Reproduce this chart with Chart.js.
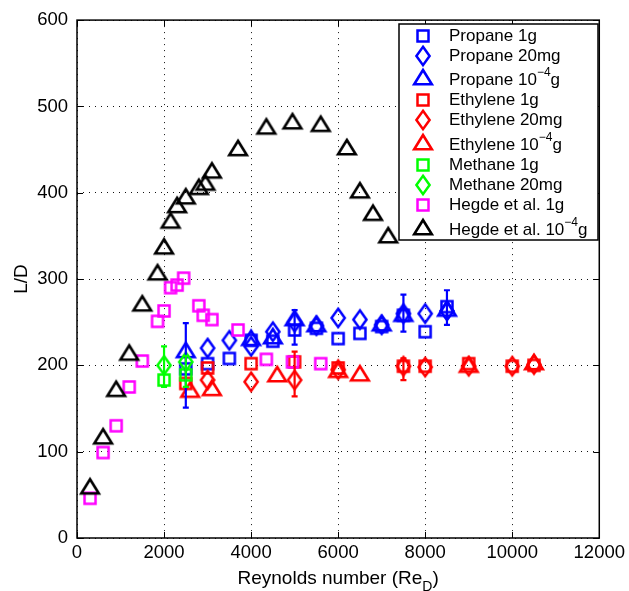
<!DOCTYPE html>
<html lang="en">
<head>
<meta charset="UTF-8">
<title>L/D vs Reynolds number</title>
<script src="https://cdn.jsdelivr.net/npm/chart.js"></script>
<style>
  html, body { margin: 0; padding: 0; background: #fff; }
  #wrap { width: 629px; height: 591px; }
</style>
</head>
<body>
<div id="wrap"><canvas id="chart" width="629" height="591"></canvas></div>
<script>
// ---- data ----
const xTickValues = [0, 2000, 4000, 6000, 8000, 10000, 12000];
const yTickValues = [0, 100, 200, 300, 400, 500, 600];

const propane1gX = [2500, 3000, 3500, 4000, 4500, 5000, 5500, 6000, 6500, 7000, 7500, 8000, 8500];
const propane1gY = [196, 202, 208, 229, 228, 241, 243, 231, 237, 245, 258, 239, 268];

const propane20mgX = [3000, 3500, 4000, 4500, 5000, 5500, 6000, 6500, 7000, 7500, 8000, 8500];
const propane20mgY = [220, 229, 222, 239, 250, 246, 255, 253, 247, 260, 260, 263];

const propane4X = [2500, 4000, 4500, 5000, 5500, 7000, 7500, 8500];
const propane4Y = [218, 232, 234, 255, 248, 249, 260, 266];
const propane4Lo = [151, null, null, 224, null, null, 239, 247];
const propane4Hi = [249, null, null, 264, null, null, 282, 287];

const ethylene1gX = [2500, 3000, 4000, 5000, 6000, 7500, 8000, 9000, 10000, 10500];
const ethylene1gY = [179, 197, 202, 204, 197, 199, 199, 202, 199, 200];

const ethylene20mgX = [3000, 4000, 5000, 6000, 7500, 8000, 9000, 10000, 10500];
const ethylene20mgY = [183, 181, 183, 195, 199, 198, 199, 199, 201];
const ethylene20mgLo = [null, null, 164, null, 183, null, null, null, null];
const ethylene20mgHi = [null, null, 216, null, 208, null, null, null, null];

const ethylene4X = [2600, 3100, 4600, 6000, 6500, 9000, 10500];
const ethylene4Y = [172, 174, 190, 195, 191, 201, 204];

const methane1gX = [2000, 2500];
const methane1gY = [183, 189];

const methane20mgX = [2000, 2500];
const methane20mgY = [200, 204];
const methane20mgLo = [175, 175];
const methane20mgHi = [222, 211];

const hegde1gX = [300, 600, 900, 1200, 1500, 1850, 2000, 2150, 2300, 2450, 2800, 2900, 3100, 3700, 4350, 4950, 5600];
const hegde1gY = [46, 99, 130, 175, 205, 251, 263, 290, 293, 301, 269, 258, 253, 241, 207, 204, 202];

const hegde4X = [300, 600, 900, 1200, 1500, 1850, 2000, 2150, 2300, 2500, 2800, 2950, 3100, 3700, 4350, 4950, 5600, 6200, 6500, 6800, 7150];
const hegde4Y = [60, 118, 173, 215, 272, 308, 338, 368, 386, 396, 407, 412, 426, 452, 477, 483, 480, 453, 403, 377, 351];

// ---- marker images (MATLAB-like hollow markers) ----
function marker(shape, color) {
  const c = document.createElement('canvas');
  const g = c.getContext('2d');
  g.strokeStyle = color;
  g.lineJoin = 'miter';
  if (shape === 'square') {
    c.width = 16; c.height = 16;
    g.strokeStyle = color; g.lineWidth = 2.5;
    g.strokeRect(2.5, 2.5, 11, 11);
  } else if (shape === 'diamond') {
    c.width = 20; c.height = 26;
    g.strokeStyle = color; g.lineWidth = 2.5; g.lineJoin = 'miter';
    g.beginPath();
    g.moveTo(10, 3.8); g.lineTo(16.6, 13); g.lineTo(10, 22.2); g.lineTo(3.4, 13); g.closePath();
    g.stroke();
  } else {
    c.width = 26; c.height = 24;
    g.strokeStyle = color; g.lineWidth = 2.6; g.lineJoin = 'miter';
    g.beginPath();
    g.moveTo(13, 5); g.lineTo(21.8, 19.2); g.lineTo(4.2, 19.2); g.closePath();
    g.stroke();
  }
  return c;
}

function pts(xs, ys) { return xs.map((x, i) => ({ x: x, y: ys[i] })); }

const series = [
  { label: 'Propane 1g', color: '#0000ff', shape: 'square', data: pts(propane1gX, propane1gY) },
  { label: 'Propane 20mg', color: '#0000ff', shape: 'diamond', data: pts(propane20mgX, propane20mgY) },
  { label: 'Propane 10^-4g', color: '#0000ff', shape: 'triangle', data: pts(propane4X, propane4Y), lo: propane4Lo, hi: propane4Hi },
  { label: 'Ethylene 1g', color: '#ff0000', shape: 'square', data: pts(ethylene1gX, ethylene1gY) },
  { label: 'Ethylene 20mg', color: '#ff0000', shape: 'diamond', data: pts(ethylene20mgX, ethylene20mgY), lo: ethylene20mgLo, hi: ethylene20mgHi },
  { label: 'Ethylene 10^-4g', color: '#ff0000', shape: 'triangle', data: pts(ethylene4X, ethylene4Y) },
  { label: 'Methane 1g', color: '#00ff00', shape: 'square', data: pts(methane1gX, methane1gY) },
  { label: 'Methane 20mg', color: '#00ff00', shape: 'diamond', data: pts(methane20mgX, methane20mgY), lo: methane20mgLo, hi: methane20mgHi },
  { label: 'Hegde et al. 1g', color: '#ff00ff', shape: 'square', data: pts(hegde1gX, hegde1gY) },
  { label: 'Hegde et al. 10^-4g', color: '#000000', shape: 'triangle', data: pts(hegde4X, hegde4Y) }
];

const datasets = series.map((s, i) => ({
  label: s.label,
  data: s.data,
  showLine: false,
  pointStyle: marker(s.shape, s.color),
  pointRadius: 10,
  borderColor: s.color,
  backgroundColor: s.color,
  order: series.length - i,
  errLo: s.lo,
  errHi: s.hi
}));

const FONT = '"Liberation Sans", Arial, Helvetica, sans-serif';

// frame with inward ticks on all four sides
const framePlugin = {
  id: 'frame',
  afterDatasetsDraw(chart) {
    const { ctx, chartArea: a, scales: { x, y } } = chart;
    ctx.save();
    ctx.strokeStyle = '#000';
    ctx.lineWidth = 1;
    ctx.beginPath();
    xTickValues.forEach(v => {
      const px = Math.round(x.getPixelForValue(v)) + 0.5;
      ctx.moveTo(px, a.bottom); ctx.lineTo(px, a.bottom - 6);
      ctx.moveTo(px, a.top); ctx.lineTo(px, a.top + 6);
    });
    yTickValues.forEach(v => {
      const py = Math.round(y.getPixelForValue(v)) + 0.5;
      ctx.moveTo(a.left, py); ctx.lineTo(a.left + 6, py);
      ctx.moveTo(a.right, py); ctx.lineTo(a.right - 6, py);
    });
    ctx.stroke();
    ctx.lineWidth = 1.5;
    ctx.strokeRect(a.left, a.top, a.right - a.left, a.bottom - a.top);
    ctx.restore();
  }
};

const errorBarPlugin = {
  id: 'errorBars',
  afterDatasetsDraw(chart) {
    const { ctx, scales: { x, y } } = chart;
    chart.data.datasets.forEach(ds => {
      if (!ds.errLo) return;
      ctx.save();
      ctx.strokeStyle = ds.borderColor;
      ctx.lineWidth = 2.2;
      ds.data.forEach((p, i) => {
        if (ds.errLo[i] == null) return;
        const px = x.getPixelForValue(p.x);
        const y1 = y.getPixelForValue(ds.errLo[i]);
        const y2 = y.getPixelForValue(ds.errHi[i]);
        ctx.beginPath();
        ctx.moveTo(px, y1); ctx.lineTo(px, y2);
        ctx.moveTo(px - 3, y1); ctx.lineTo(px + 3, y1);
        ctx.moveTo(px - 3, y2); ctx.lineTo(px + 3, y2);
        ctx.stroke();
      });
      ctx.restore();
    });
  }
};

// text with a ^-4 superscript
function drawSupText(ctx, text, x, y, size) {
  const m = text.match(/^(.*)\^(-\d)(.*)$/);
  ctx.font = size + 'px ' + FONT;
  if (!m) { ctx.fillText(text, x, y); return; }
  ctx.fillText(m[1], x, y);
  x += ctx.measureText(m[1]).width;
  ctx.font = Math.round(size * 0.72) + 'px ' + FONT;
  const sup = m[2].replace('-', '\u2212');
  ctx.fillText(sup, x, y - size * 0.42);
  x += ctx.measureText(sup).width;
  ctx.font = size + 'px ' + FONT;
  ctx.fillText(m[3], x, y);
}

const legendPlugin = {
  id: 'boxLegend',
  afterDraw(chart) {
    const { ctx } = chart;
    const rows = [36, 56, 77, 100, 120, 142, 165, 185, 205, 227];
    ctx.save();
    ctx.fillStyle = '#fff';
    ctx.fillRect(399, 24, 199, 216);
    ctx.strokeStyle = '#000';
    ctx.lineWidth = 1.5;
    ctx.strokeRect(399, 24, 199, 216);
    chart.data.datasets.forEach((ds, i) => {
      const img = ds.pointStyle;
      ctx.drawImage(img, Math.round(423 - img.width / 2), Math.round(rows[i] - img.height / 2));
      ctx.fillStyle = '#000';
      ctx.textBaseline = 'middle';
      ctx.textAlign = 'left';
      const sup = ds.label.indexOf('^') >= 0;
      drawSupText(ctx, ds.label, 449, rows[i] + (sup ? 3 : 0), 17);
    });
    ctx.restore();
  }
};

const titlePlugin = {
  id: 'axisTitles',
  afterDraw(chart) {
    const { ctx, chartArea: a } = chart;
    ctx.save();
    ctx.fillStyle = '#000';
    ctx.textBaseline = 'alphabetic';
    ctx.textAlign = 'left';
    const main = 'Reynolds number (Re';
    ctx.font = '19px ' + FONT;
    const w1 = ctx.measureText(main).width;
    ctx.font = '14px ' + FONT;
    const w2 = ctx.measureText('D').width;
    ctx.font = '19px ' + FONT;
    const w3 = ctx.measureText(')').width;
    let x0 = (a.left + a.right) / 2 - (w1 + w2 + w3) / 2;
    ctx.fillText(main, x0, 584);
    ctx.font = '14px ' + FONT;
    ctx.fillText('D', x0 + w1, 591);
    ctx.font = '19px ' + FONT;
    ctx.fillText(')', x0 + w1 + w2, 584);
    ctx.translate(27, (a.top + a.bottom) / 2);
    ctx.rotate(-Math.PI / 2);
    ctx.textAlign = 'center';
    ctx.fillText('L/D', 0, 0);
    ctx.restore();
  }
};

const tickFont = { family: FONT, size: 18.5 };

new Chart(document.getElementById('chart'), {
  type: 'scatter',
  data: { datasets: datasets },
  options: {
    responsive: false,
    animation: false,
    layout: { padding: { left: 0, right: 29, top: 20, bottom: 0 } },
    plugins: { legend: { display: false }, tooltip: { enabled: false } },
    scales: {
      x: {
        type: 'linear', min: 0, max: 12000,
        afterBuildTicks: s => { s.ticks = xTickValues.map(v => ({ value: v })); },
        afterFit: s => { s.height = 53; },
        grid: { color: '#111', lineWidth: 1, drawTicks: false },
        border: { display: false, dash: [1, 5] },
        ticks: { color: '#000', font: tickFont, padding: 4, maxRotation: 0, autoSkip: false, callback: v => String(v) }
      },
      y: {
        type: 'linear', min: 0, max: 600,
        afterBuildTicks: s => { s.ticks = yTickValues.map(v => ({ value: v })); },
        afterFit: s => { s.width = 77; },
        grid: { color: '#111', lineWidth: 1, drawTicks: false },
        border: { display: false, dash: [1, 5] },
        ticks: { color: '#000', font: tickFont, padding: 9, autoSkip: false, callback: v => String(v) }
      }
    }
  },
  plugins: [framePlugin, errorBarPlugin, titlePlugin, legendPlugin]
});
</script>
</body>
</html>
